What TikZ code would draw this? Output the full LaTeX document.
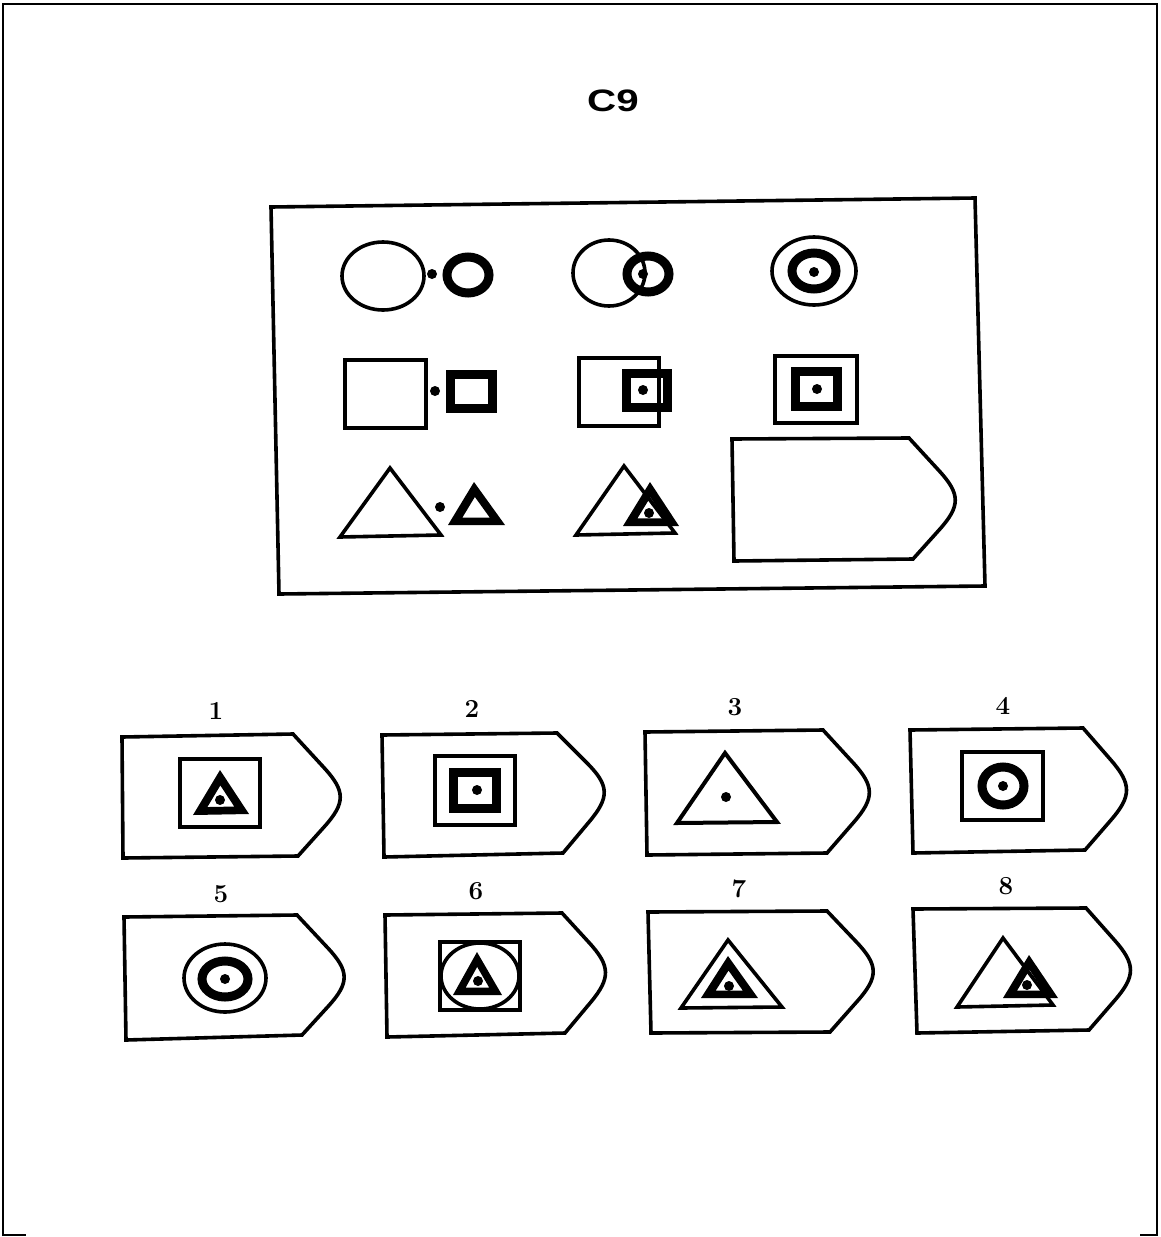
\documentclass[tikz,border=0pt]{standalone}
\usepackage{fontspec}
\usepackage{graphicx}
\newfontfamily\titlefont{Liberation Sans}
\usetikzlibrary{calc}
\tikzset{
  thinln/.style={line width=3.6pt, line join=miter},
  thickln/.style={line width=9pt, line join=miter},
  framel/.style={line width=2pt},
  numlbl/.style={font=\bfseries\fontsize{26}{26}\selectfont, inner sep=0pt},
}
\newcommand\dotat[1]{\fill #1 circle[radius=5];}
\newcommand\ringat[3]{\draw[thickln] #1 ellipse[x radius=#2, y radius=#3];}
\newcommand\thicktri[4][0.48]{%
  \coordinate (ta) at #2; \coordinate (tb) at #3; \coordinate (tc) at #4;
  \coordinate (tbc) at ($(tb)!0.5!(tc)$);
  \coordinate (tm) at ($(ta)!0.6667!(tbc)$);
  \fill[even odd rule] (ta) -- (tb) -- (tc) -- cycle
    ($(tm)!#1!(ta)$) -- ($(tm)!#1!(tb)$) -- ($(tm)!#1!(tc)$) -- cycle;}
\newcommand\penta[5]{%
  \coordinate (pt) at #3; \coordinate (pr) at #2; \coordinate (pb) at #4;
  \draw[thinln] #1 -- (pr) -- ($(pt)!40pt!(pr)$) .. controls ($(pt)!8pt!(pr)$) and ($(pt)!8pt!(pb)$) .. ($(pt)!40pt!(pb)$) -- (pb) -- #5 -- cycle;}
\begin{document}
\begin{tikzpicture}[x=1pt,y=-1pt]
\useasboundingbox (0,0) rectangle (1160,1237);
% page frame
\draw[framel] (3,1236) -- (3,4) -- (1157,4) -- (1157,1236);
\draw[framel] (3,1235) -- (26,1235);
\draw[framel] (1140,1235) -- (1157,1235);
% title
\node (title) at (613,101) {\scalebox{1.3}[1]{\titlefont\bfseries\fontsize{31}{31}\selectfont C9}};
% main matrix box
\draw[thinln] (271,207) -- (975,198) -- (985,586) -- (279,594) -- cycle;
% row 1
\draw[thinln] (383,276) ellipse[x radius=41, y radius=34];
\dotat{(432,274)}
\ringat{(468,275)}{21}{18}
\draw[thinln] (609,273) ellipse[x radius=36, y radius=33];
\ringat{(648,274)}{21}{18}
\dotat{(643,274)}
\draw[thinln] (814,271) ellipse[x radius=42, y radius=34];
\ringat{(814,271)}{22}{18}
\dotat{(814,272)}
% row 2
\draw[thinln] (345,360) rectangle (426,428);
\dotat{(435,391)}
\draw[line width=9.5pt] (450.5,374.5) rectangle (492.5,408.5);
\draw[thinln] (579,358) rectangle (659,426);
\draw[line width=9.5pt] (626.5,373.5) rectangle (667.5,407.5);
\dotat{(643,390)}
\draw[thinln] (775,356) rectangle (857,423);
\draw[line width=9.5pt] (795.5,371.5) rectangle (837.5,406.5);
\dotat{(817,389)}
% row 3
\draw[thinln] (390,468) -- (340,537) -- (441,535) -- cycle;
\dotat{(440,507)}
\thicktri{(474,482)}{(448,525)}{(505,525)}
\draw[thinln] (624,466) -- (576,535) -- (675,533) -- cycle;
\thicktri{(650,482)}{(623,526)}{(679,526)}
\dotat{(649,513)}
% answer slot
\penta{(732,439)}{(909,438)}{(966,500)}{(913,559)}{(734,561)}
% option 1
\node[numlbl] (n1) at (216,711) {1};
\penta{(122,737)}{(293,734)}{(351,797)}{(298,856)}{(123,858)}
\draw[thinln] (180,759) rectangle (260,827);
\thicktri{(220,770)}{(193,815)}{(249,814)}
\dotat{(220,800)}
% option 2
\node[numlbl] (n2) at (472,709) {2};
\penta{(382,735)}{(557,733)}{(615,791)}{(563,853)}{(384,857)}
\draw[thinln] (435,756) rectangle (515,825);
\draw[line width=9.5pt] (453.5,772.5) rectangle (496.5,808.5);
\dotat{(477,790)}
% option 3
\node[numlbl] (n3) at (735,707) {3};
\penta{(645,732)}{(823,730)}{(880,792)}{(827,853)}{(647,855)}
\draw[line width=4pt, line join=miter] (725,753) -- (677,823) -- (777,822) -- cycle;
\dotat{(726,797)}
% option 4
\node[numlbl] (n4) at (1003,706) {4};
\penta{(910,730)}{(1083,728)}{(1137,790)}{(1085,850)}{(913,853)}
\draw[thinln] (962,752) rectangle (1043,820);
\ringat{(1003,786)}{21}{19}
\dotat{(1003,786)}
% option 5
\node[numlbl] (n5) at (221,894) {5};
\penta{(124,917)}{(297,915)}{(355,977)}{(302,1035)}{(126,1040)}
\draw[thinln] (225,978) ellipse[x radius=41, y radius=34];
\ringat{(225,979)}{23}{18}
\dotat{(225,979)}
% option 6
\node[numlbl] (n6) at (476,891) {6};
\penta{(385,915)}{(562,913)}{(616,972)}{(565,1033)}{(387,1037)}
\draw[thinln] (440,942) rectangle (520,1010);
\draw[thinln] (480,976) ellipse[x radius=39, y radius=33];
\thicktri{(477,952)}{(453,995)}{(502,995)}
\dotat{(478,981)}
% option 7
\node[numlbl] (n7) at (739,889) {7};
\penta{(648,912)}{(827,911)}{(884,971)}{(830,1032)}{(651,1033)}
\draw[thinln] (728,940) -- (681,1008) -- (782,1007) -- cycle;
\thicktri{(728,956)}{(701,998)}{(758,998)}
\dotat{(729,986)}
% option 8
\node[numlbl] (n8) at (1006,886) {8};
\penta{(913,909)}{(1086,908)}{(1141,970)}{(1089,1030)}{(917,1033)}
\draw[thinln] (1003,938) -- (957,1007) -- (1053,1005) -- cycle;
\thicktri{(1029,955)}{(1003,998)}{(1058,998)}
\dotat{(1027,985)}
\end{tikzpicture}
\end{document}
